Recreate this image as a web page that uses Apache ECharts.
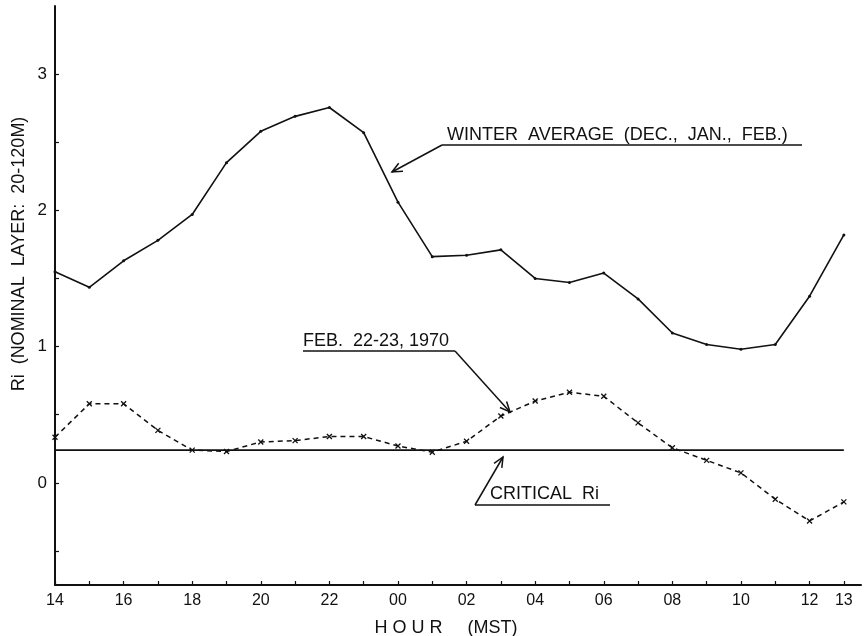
<!DOCTYPE html>
<html>
<head>
<meta charset="utf-8">
<script src="https://cdn.jsdelivr.net/npm/echarts@6/dist/echarts.min.js"></script>
<style>
html,body{margin:0;padding:0;background:#fff;}
#chart{width:866px;height:636px;}
</style>
</head>
<body>
<div id="chart"></div>
<script>
// Hours of day, 14 MST through 13 MST the next day (one per index)
const hourLabels = ['14','15','16','17','18','19','20','21','22','23','00','01','02','03','04','05','06','07','08','09','10','11','12','13'];
const labelledHours = ['14','16','18','20','22','00','02','04','06','08','10','12','13'];
// Winter average Ri (Dec., Jan., Feb.)
const winterAvg = [1.55,1.435,1.63,1.78,1.97,2.35,2.58,2.69,2.755,2.57,2.06,1.66,1.67,1.71,1.50,1.47,1.54,1.35,1.10,1.015,0.98,1.015,1.37,1.82];
// Feb. 22-23, 1970
const feb1970 = [0.335,0.58,0.58,0.385,0.24,0.23,0.30,0.31,0.34,0.34,0.27,0.225,0.305,0.49,0.60,0.665,0.635,0.44,0.257,0.165,0.073,-0.12,-0.28,-0.14];
// Critical Ri
const criticalRi = 0.24;
// Y tick values and labels
const yTicks = [-0.5,0,0.5,1,1.5,2,2.5,3];
const yLabels = [0,1,2,3];

const FONT = 'Liberation Sans';
const INK = '#111';

const chart = echarts.init(document.getElementById('chart'), null, {renderer:'canvas'});

const xTickIdx = hourLabels.map((h,i)=>i);
const xLabelIdx = labelledHours.map(h => hourLabels.indexOf(h));

const option = {
  backgroundColor:'#fff',
  animation:false,
  grid:{left:55, right:5, top:6, bottom:51, containLabel:false},
  xAxis:{
    type:'value', min:0, max:23.5,
    axisLine:{show:true, onZero:false, lineStyle:{color:INK, width:2}},
    axisTick:{show:true, inside:true, length:4, customValues:xTickIdx, lineStyle:{color:INK, width:1.2}},
    axisLabel:{show:true, customValues:xLabelIdx, formatter:v=>hourLabels[Math.round(v)], fontFamily:FONT, fontSize:16, color:INK, margin:8},
    splitLine:{show:false}
  },
  yAxis:{
    type:'value', min:-0.75, max:3.5,
    axisLine:{show:true, onZero:false, lineStyle:{color:INK, width:2}},
    axisTick:{show:true, inside:true, length:4, customValues:yTicks, lineStyle:{color:INK, width:1.2}},
    axisLabel:{show:true, customValues:yLabels, formatter:v=>String(v), fontFamily:FONT, fontSize:17, color:INK, margin:8},
    splitLine:{show:false}
  },
  series:[
    {
      name:'WINTER AVERAGE (DEC., JAN., FEB.)', type:'line',
      data: winterAvg.map((v,i)=>[i,v]),
      symbol:'circle', symbolSize:3, showSymbol:true,
      itemStyle:{color:INK},
      lineStyle:{color:INK, width:1.6, type:'solid'}
    },
    {
      name:'FEB. 22-23, 1970', type:'line',
      data: feb1970.map((v,i)=>[i,v]),
      symbol:'path://M0,0L10,10M10,0L0,10', symbolSize:5, showSymbol:true,
      itemStyle:{color:'none', borderColor:INK, borderWidth:1.3},
      lineStyle:{color:INK, width:1.5, type:[5,4]}
    },
    {
      name:'CRITICAL Ri', type:'line',
      data: [[0, criticalRi],[hourLabels.length-1, criticalRi]],
      symbol:'none',
      lineStyle:{color:INK, width:1.6}
    }
  ]
};
chart.setOption(option);

function arrow(sx, sy, tx, ty){
  const ang = Math.atan2(ty-sy, tx-sx);
  const L = 11, a = 0.42;
  const p1 = [tx - L*Math.cos(ang - a), ty - L*Math.sin(ang - a)];
  const p2 = [tx - L*Math.cos(ang + a), ty - L*Math.sin(ang + a)];
  return [
    {type:'line', shape:{x1:sx,y1:sy,x2:tx,y2:ty}, style:{stroke:INK, lineWidth:1.5}, silent:true},
    {type:'polyline', shape:{points:[p1,[tx,ty],p2]}, style:{stroke:INK, lineWidth:1.5, fill:null}, silent:true}
  ];
}
function underline(x1,x2,y){
  return {type:'line', shape:{x1:x1,y1:y,x2:x2,y2:y}, style:{stroke:INK, lineWidth:1.5}, silent:true};
}
function label(txt, x, y, size, align){
  return {type:'text', x:x, y:y, style:{text:txt, font:size+'px "'+FONT+'"', fill:INK, align:align||'left', verticalAlign:'bottom'}, silent:true};
}

const graphics = [];
// Winter average annotation
graphics.push(label('WINTER  AVERAGE  (DEC.,  JAN.,  FEB.)', 447, 144, 18));
graphics.push(underline(442, 802, 145));
graphics.push(...arrow(442, 145, 392, 172));
// Feb 22-23 1970 annotation
graphics.push(label('FEB.  22-23, 1970', 303, 350, 18));
graphics.push(underline(303, 455, 351));
graphics.push(...arrow(455, 351, 510, 412));
// Critical Ri annotation
graphics.push(label('CRITICAL  Ri', 490, 503, 18));
graphics.push(underline(475, 610, 505));
graphics.push(...arrow(475, 505, 503, 457));
// Axis titles
graphics.push({type:'text', x:19, y:254, rotation:Math.PI/2, style:{text:'Ri  (NOMINAL  LAYER:  20-120M)', font:'18px "'+FONT+'"', fill:INK, align:'center', verticalAlign:'middle'}, silent:true});
graphics.push({type:'text', x:446, y:628, style:{text:'H O U R     (MST)', font:'18px "'+FONT+'"', fill:INK, align:'center', verticalAlign:'middle'}, silent:true});

chart.setOption({graphic:{elements:graphics}});
</script>
</body>
</html>
